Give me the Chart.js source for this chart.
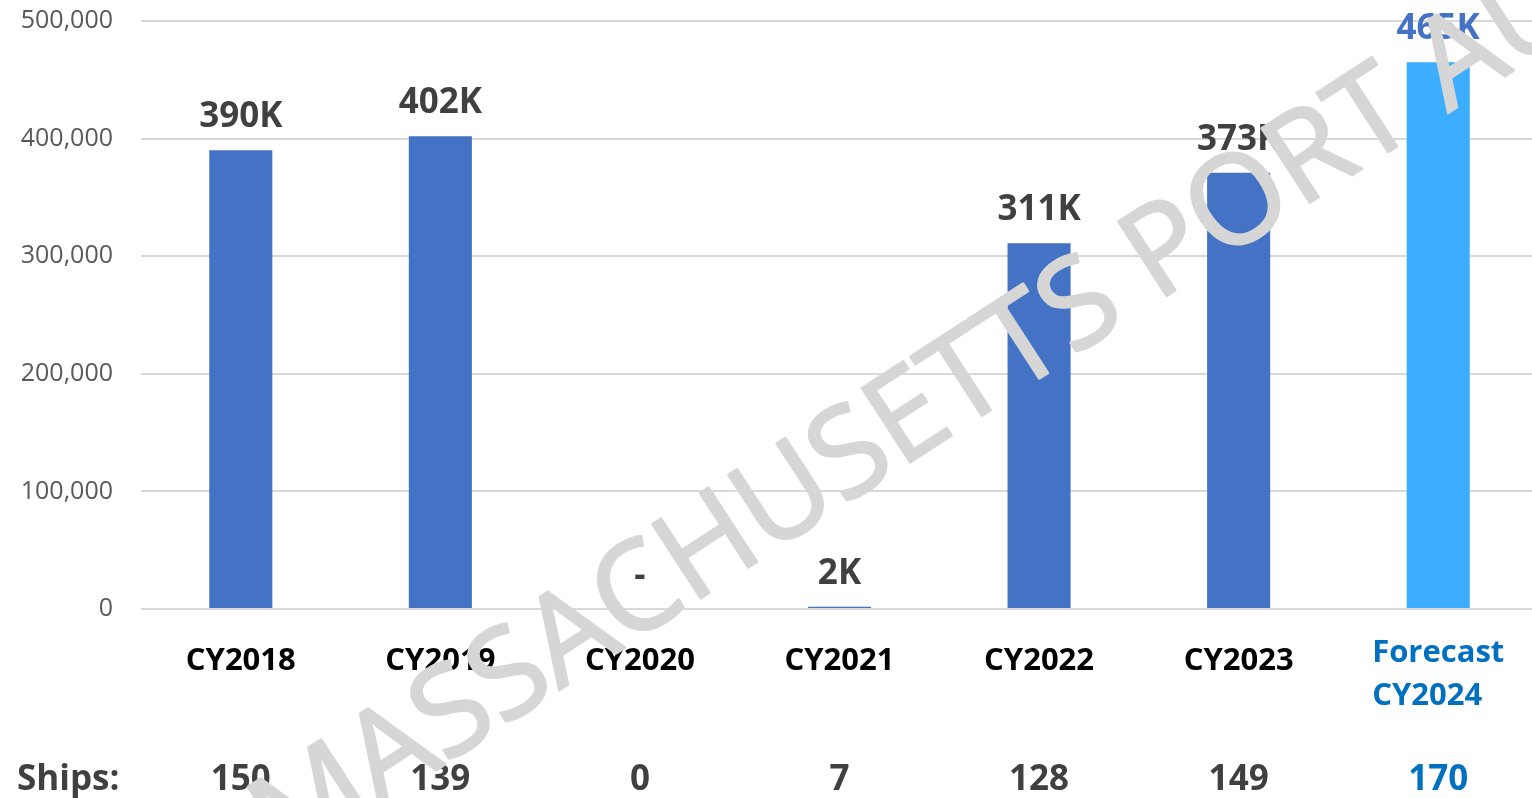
<!DOCTYPE html>
<html>
<head>
<meta charset="utf-8">
<script src="https://cdn.jsdelivr.net/npm/chart.js@4.4.1/dist/chart.umd.min.js"></script>
<style>
  html, body { margin: 0; padding: 0; background: #fff; overflow: hidden; }
  #wrap { width: 1538px; height: 798px; }
</style>
</head>
<body>
<div id="wrap"><canvas id="cruise" width="1538" height="798"></canvas></div>
<script>
// --- data ---
const categories = ['CY2018', 'CY2019', 'CY2020', 'CY2021', 'CY2022', 'CY2023', 'Forecast CY2024'];
const passengers = [390000, 402000, 0, 2000, 311000, 371000, 465000];
const valueLabels = ['390K', '402K', '-', '2K', '311K', '373K', '465K'];
const ships = [150, 139, 0, 7, 128, 149, 170];
const yTicks = [0, 100000, 200000, 300000, 400000, 500000];

const BLUE = '#4472C4';
const FORECAST = '#3DADFF';
const FORECAST_TXT = '#0070C0';
const DARK = '#404040';

const FONT = '"Open Sans", "DejaVu Sans", sans-serif';
const WATERMARK = 'MASSACHUSETTS PORT AUTHORITY';

// labels, ships row and watermark drawn on top of the library's scales
const overlay = {
    id: 'overlay',
    afterDatasetsDraw(chart) {
        const ctx = chart.ctx;
        const xs = chart.scales.x;
        const meta = chart.getDatasetMeta(0);
        ctx.save();
        ctx.textAlign = 'center';
        ctx.textBaseline = 'alphabetic';

        // value labels above bars
        meta.data.forEach((bar, i) => {
            const last = i === passengers.length - 1;
            ctx.font = '700 35px ' + FONT;
            ctx.fillStyle = last ? BLUE : DARK;
            ctx.fillText(valueLabels[i], bar.x, bar.y - 23);
        });

        // category labels
        categories.forEach((c, i) => {
            const x = xs.getPixelForValue(i);
            ctx.font = '700 31px ' + FONT;
            if (c.startsWith('Forecast')) {
                const parts = c.split(' ');
                ctx.fillStyle = FORECAST_TXT;
                const w = ctx.measureText(parts[0]).width;
                ctx.textAlign = 'left';
                ctx.fillText(parts[0], x - w / 2, 662);
                ctx.fillText(parts[1], x - w / 2, 705);
                ctx.textAlign = 'center';
            } else {
                ctx.fillStyle = '#000';
                ctx.fillText(c, x, 670);
            }
        });

        // ships row
        ctx.font = '700 35px ' + FONT;
        ctx.fillStyle = DARK;
        ctx.textAlign = 'left';
        ctx.fillText('Ships:', 17, 790);
        ctx.textAlign = 'center';
        ships.forEach((s, i) => {
            ctx.fillStyle = i === ships.length - 1 ? FORECAST_TXT : DARK;
            ctx.fillText(String(s), xs.getPixelForValue(i), 790);
        });

        // watermark, anchored on the "E" in the middle of the word
        const ang = -33 * Math.PI / 180;
        ctx.font = '400 124px ' + FONT;
        const lead = ctx.measureText('MASSACHUS').width;
        const ex = 900, ey = 469;
        ctx.translate(ex - lead * Math.cos(ang), ey - lead * Math.sin(ang));
        ctx.rotate(ang);
        ctx.textAlign = 'left';
        ctx.fillStyle = '#d6d6d6';
        ctx.strokeStyle = '#d6d6d6';
        ctx.lineWidth = 2.5;
        ctx.lineJoin = 'round';
        ctx.fillText(WATERMARK, 0, 0);
        ctx.strokeText(WATERMARK, 0, 0);
        ctx.restore();
    }
};

new Chart(document.getElementById('cruise'), {
    type: 'bar',
    data: {
        labels: categories,
        datasets: [{
            data: passengers,
            backgroundColor: passengers.map((v, i) => i === passengers.length - 1 ? FORECAST : BLUE),
            borderWidth: 0,
            categoryPercentage: 1,
            barPercentage: 0.316
        }]
    },
    options: {
        responsive: false,
        animation: false,
        devicePixelRatio: 1,
        layout: { padding: { top: 21, bottom: 189, left: 0, right: 0 } },
        plugins: { legend: { display: false }, tooltip: { enabled: false } },
        scales: {
            x: {
                ticks: { display: false },
                grid: { display: false },
                border: { display: false },
                afterFit: s => { s.height = 0; }
            },
            y: {
                min: 0,
                max: 500000,
                afterBuildTicks: s => { s.ticks = yTicks.map(v => ({ value: v })); },
                afterFit: s => { s.width = 141; s.paddingTop = 0; s.paddingBottom = 0; },
                ticks: {
                    padding: 28,
                    color: '#595959',
                    font: { family: FONT, size: 25 },
                    callback: v => v.toLocaleString('en-US')
                },
                grid: { color: '#d9d9d9', lineWidth: 2, drawTicks: false },
                border: { display: false }
            }
        }
    },
    plugins: [overlay]
});
</script>
</body>
</html>
